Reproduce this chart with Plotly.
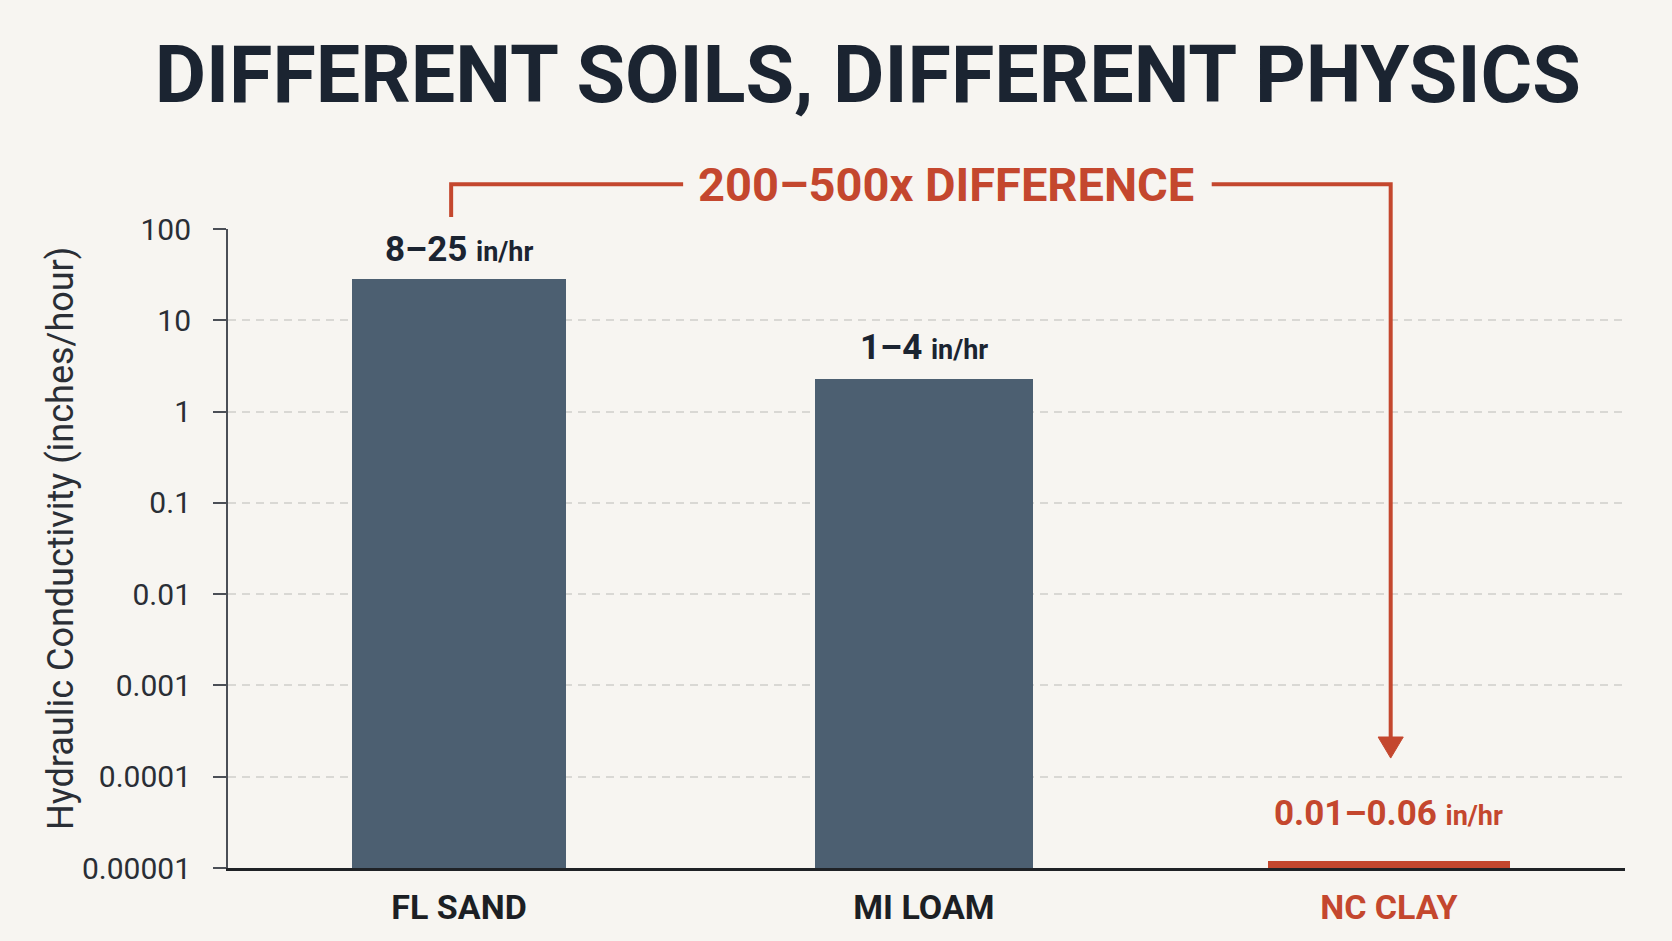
import plotly.graph_objects as go
import numpy as np

# ---- data ----
categories = ["FL SAND", "MI LOAM", "NC CLAY"]
conductivity = [28, 2.3, 0.000012]
range_labels = ["8–25", "1–4", "0.01–0.06"]
unit_label = "in/hr"
y_tickvals = [100, 10, 1, 0.1, 0.01, 0.001, 0.0001, 0.00001]
y_ticktext = ["100", "10", "1", "0.1", "0.01", "0.001", "0.0001", "0.00001"]
title_text = "DIFFERENT SOILS, DIFFERENT PHYSICS"
callout_text = "200–500x DIFFERENCE"
y_title = "Hydraulic Conductivity (inches/hour)"

# ---- style ----
SLATE = "#4C5F71"
RED = "#C4472E"
NAVY = "#1B2431"
DARK = "#2A2E35"
BG = "#F7F5F1"
FONT = "Roboto, sans-serif"
bar_colors = [SLATE, SLATE, RED]
label_colors = [NAVY, NAVY, RED]
bar_widths = [0.46, 0.47, 0.52]
label_shift = [30, 31, 47]

ticktext_x = [
    f'<span style="color:{c}">{cat}</span>' for cat, c in zip(categories, ["#1C1F24", "#1C1F24", RED])
]

fig = go.Figure()
fig.add_trace(go.Bar(
    x=categories, y=conductivity, width=bar_widths,
    marker=dict(color=bar_colors, line=dict(width=0)),
    hoverinfo="skip",
))

annotations = []
for cat, val, rl, col, sh in zip(categories, conductivity, range_labels, label_colors, label_shift):
    annotations.append(dict(
        x=cat, y=np.log10(val), xref="x", yref="y",
        text=f'{rl} <span style="font-size:27px">{unit_label}</span>',
        showarrow=False, yanchor="middle", yshift=sh,
        font=dict(family=FONT, size=35, color=col, weight="bold"),
    ))

# callout text
annotations.append(dict(
    x=1.047, y=1.069, xref="x", yref="paper", text=callout_text, showarrow=False,
    xanchor="center", yanchor="middle",
    font=dict(family=FONT, size=47, color=RED, weight="bold"),
))
# y-axis title
annotations.append(dict(
    x=-0.119, y=0.516, xref="paper", yref="paper", text=y_title, showarrow=False,
    textangle=-90, xanchor="center", yanchor="middle",
    font=dict(family=FONT, size=36, color=DARK),
))

shapes = [
    dict(type="path", xref="x", yref="paper",
         path="M -0.017,1.0188 L -0.017,1.07 L 0.482,1.07",
         line=dict(color=RED, width=4)),
    dict(type="path", xref="x", yref="paper",
         path="M 1.619,1.07 L 2.004,1.07 L 2.004,0.20",
         line=dict(color=RED, width=4)),
    dict(type="path", xref="x", yref="paper",
         path="M 1.977,0.205 L 2.031,0.205 L 2.004,0.172 Z",
         fillcolor=RED, line=dict(color=RED, width=1)),
]

fig.update_layout(
    width=1672, height=941,
    paper_bgcolor=BG, plot_bgcolor=BG,
    margin=dict(l=228, r=47, t=229, b=73),
    showlegend=False,
    title=dict(text=title_text, x=0.519, xref="container", xanchor="center",
               y=0.921, yref="container", yanchor="middle",
               font=dict(family=FONT, size=79, color=NAVY, weight="bold")),
    annotations=annotations,
    shapes=shapes,
    bargap=0,
)
fig.update_xaxes(
    type="category", categoryorder="array", categoryarray=categories,
    range=[-0.497, 2.508],
    tickvals=categories, ticktext=ticktext_x,
    showline=True, linecolor="#1F2226", linewidth=3,
    ticks="", showgrid=False, zeroline=False,
    tickfont=dict(family=FONT, size=34, color="#1C1F24", weight="bold"),
    ticklabelstandoff=7,
)
fig.update_yaxes(
    type="log", range=[-5, 2],
    tickvals=y_tickvals, ticktext=y_ticktext,
    showline=True, linecolor="#4B4F56", linewidth=2,
    ticks="outside", ticklen=13, tickwidth=2, tickcolor="#4B4F56",
    showgrid=True, gridcolor="#D9D8D4", gridwidth=1.5, griddash="8px,6px",
    zeroline=False,
    tickfont=dict(family=FONT, size=30, color=DARK),
    ticklabelstandoff=16,
)

fig.write_html("out.html")
